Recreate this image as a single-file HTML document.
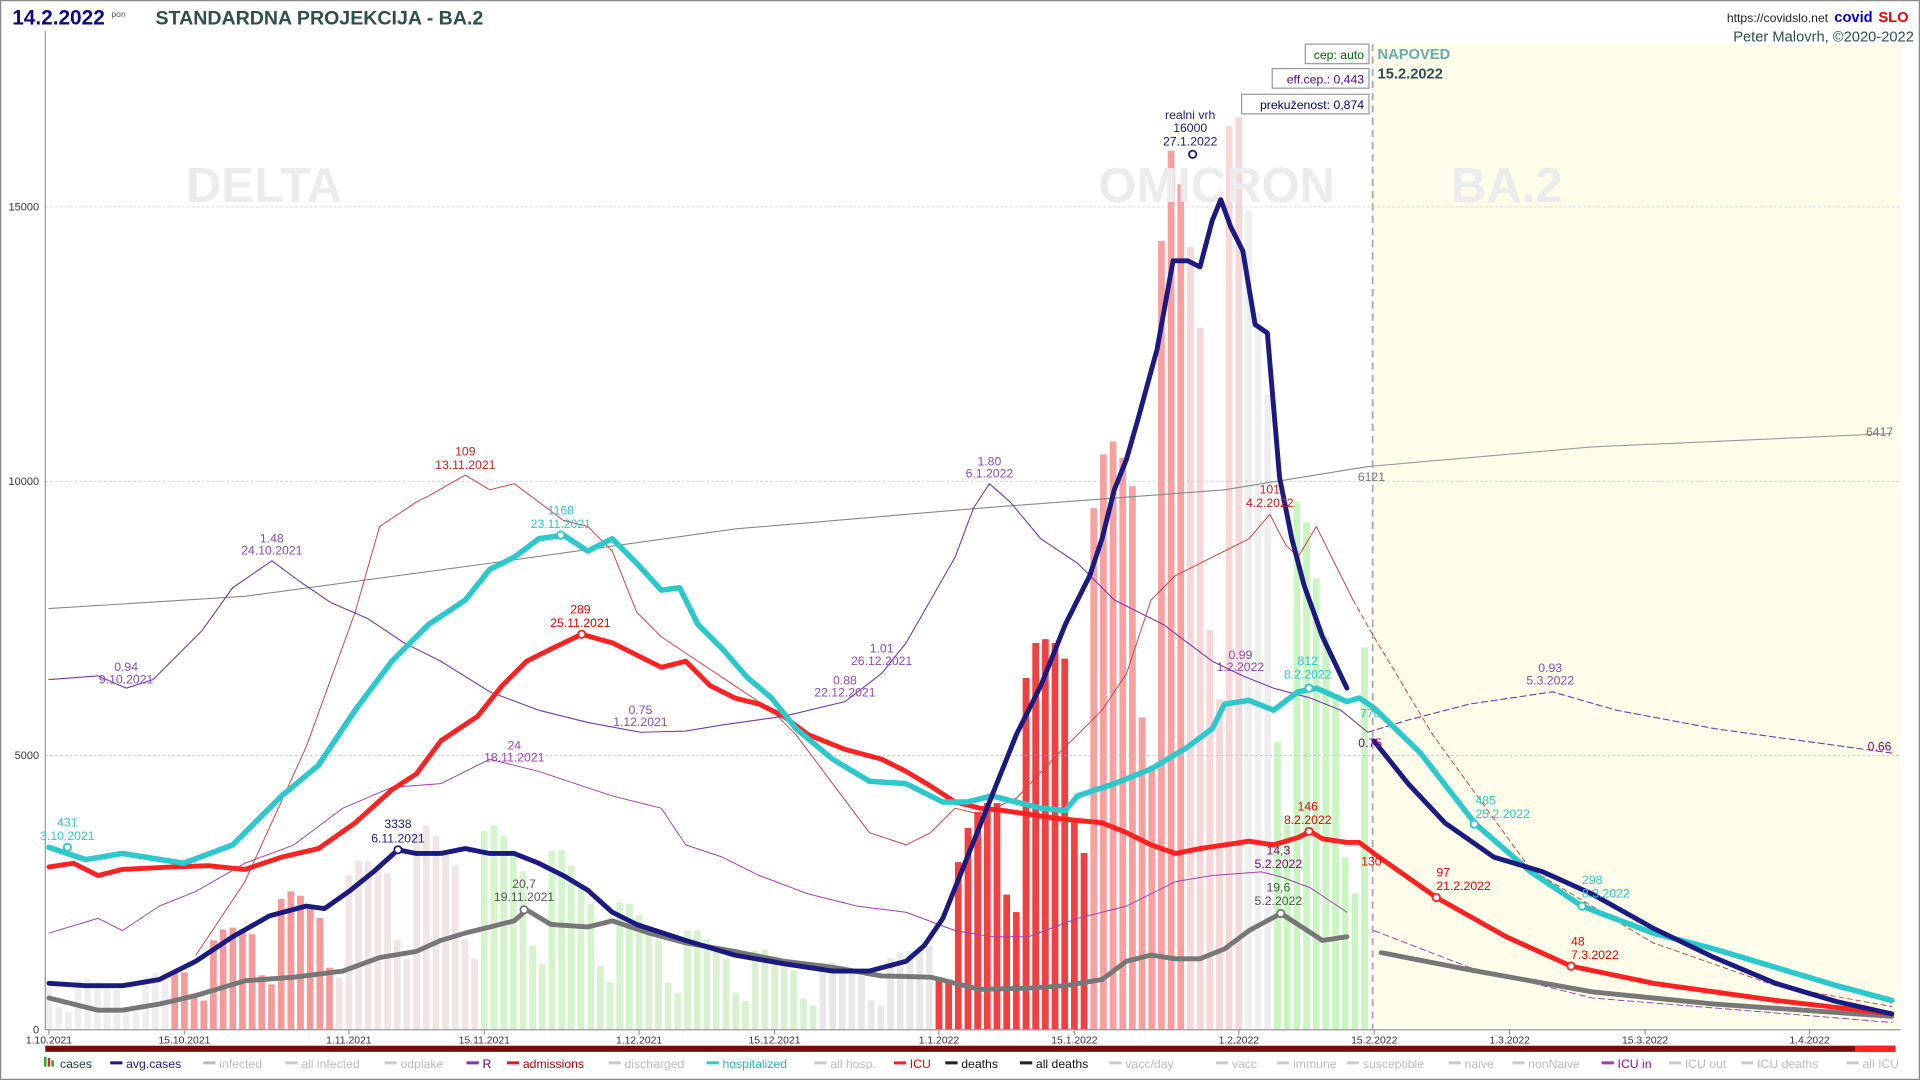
<!DOCTYPE html>
<html><head><meta charset="utf-8"><style>
html,body{margin:0;padding:0;background:#fff;}
svg{display:block;font-family:"Liberation Sans",sans-serif;}
</style></head><body>
<svg id="s" width="1920" height="1080" viewBox="0 0 1568 882" preserveAspectRatio="none">
<rect x="0" y="0" width="1568" height="882" fill="#fff"/>
<rect x="0.5" y="0.5" width="1567" height="881" fill="none" stroke="#888" stroke-width="1"/>
<rect x="1122" y="36" width="430" height="805" fill="#fdfde9"/>
<g id="bars"></g>
<g font-size="40" font-weight="bold" fill="#ececec">
<text x="152" y="165">DELTA</text><text x="897" y="165">OMICRON</text><text x="1185" y="165">BA.2</text>
</g>
<g stroke="#bbb" stroke-width="0.6" stroke-dasharray="2,2">
<line x1="37" y1="617" x2="1552" y2="617"/><line x1="37" y1="393" x2="1552" y2="393"/><line x1="37" y1="169" x2="1552" y2="169"/>
</g>
<line x1="37" y1="25" x2="37" y2="841" stroke="#999"/>
<line x1="37" y1="841" x2="1552" y2="841" stroke="#999"/>
<line x1="1121" y1="36" x2="1121" y2="841" stroke="#aaa" stroke-width="1.5" stroke-dasharray="6,4"/>
<g font-size="9" fill="#333">
<text x="32" y="844" text-anchor="end">0</text><text x="32" y="620" text-anchor="end">5000</text><text x="32" y="396" text-anchor="end">10000</text><text x="32" y="172" text-anchor="end">15000</text>
</g>
<g font-size="8.5" fill="#333" text-anchor="middle" id="xt"></g>
<rect x="37" y="854" width="1511" height="5" fill="#7a0b0b"/>
<rect x="1515" y="854" width="33" height="5" fill="#f22"/>
<g id="lines" fill="none" stroke-linejoin="round" stroke-linecap="round"></g>
<text x="10" y="20" font-size="17" font-weight="bold" fill="#0a0a80">14.2.2022</text>
<text x="91" y="14" font-size="7" fill="#555">pon</text>
<text x="127" y="20" font-size="16" font-weight="bold" fill="#2f4f4f">STANDARDNA PROJEKCIJA - BA.2</text>
<text x="1493" y="18" font-size="10" fill="#222" text-anchor="end">https://covidslo.net</text>
<text x="1498" y="18" font-size="12" font-weight="bold" fill="#00c">covid</text><text x="1534" y="18" font-size="12" font-weight="bold" fill="#e00">SLO</text>
<text x="1563" y="34" font-size="12" fill="#2f4f4f" text-anchor="end">Peter Malovrh, ©2020-2022</text>
<g font-size="10">
<rect x="1066" y="36" width="52" height="16" fill="#fff" stroke="#999"/><text x="1114" y="48" text-anchor="end" fill="#060">cep: auto</text>
<rect x="1039" y="56" width="79" height="16" fill="#fff" stroke="#999"/><text x="1114" y="68" text-anchor="end" fill="#508">eff.cep.: 0,443</text>
<rect x="1014" y="77" width="104" height="16" fill="#fff" stroke="#999"/><text x="1114" y="89" text-anchor="end" fill="#006">prekuženost: 0,874</text>
</g>
<text x="1125" y="48" font-size="12" font-weight="bold" fill="#6aa">NAPOVED</text>
<text x="1125" y="64" font-size="12" font-weight="bold" fill="#2f4f4f">15.2.2022</text>
<g font-size="10" text-anchor="middle" id="ann"></g>
<g font-size="10" id="leg"></g>
</svg>
<script>
const NS="http://www.w3.org/2000/svg";
function el(t,a,p){const e=document.createElementNS(NS,t);for(const k in a)e.setAttribute(k,a[k]);(p||document.getElementById('s')).appendChild(e);return e;}
const X=d=>40+d*7.9;
const xt=document.getElementById('xt');
[["1.10.2021",0],["15.10.2021",14],["1.11.2021",31],["15.11.2021",45],["1.12.2021",61],["15.12.2021",75],["1.1.2022",92],["15.1.2022",106],["1.2.2022",123],["15.2.2022",137],["1.3.2022",151],["15.3.2022",165],["1.4.2022",182]].forEach(([t,d])=>{
 el('line',{x1:X(d),y1:841,x2:X(d),y2:845,stroke:'#999'},xt);
 const e=el('text',{x:X(d),y:852},xt);e.textContent=t;});
const P=s=>s.trim().split(/\s+/).map(p=>p.split(',').map(Number));
const navy=P("40,803 70,805 100,805 130,800 160,785 190,765 220,748 250,740 265,742 285,728 305,712 325,694 340,697 360,697 380,693 400,697 420,697 440,705 460,715 480,727 500,745 520,755 560,768 600,780 640,787 680,793 710,793 740,785 755,772 770,750 790,700 810,650 830,600 850,560 870,510 890,470 900,440 910,400 920,375 930,340 945,285 958,213 970,213 980,218 990,180 997,163 1005,185 1015,205 1025,265 1035,272 1045,390 1055,440 1065,478 1080,520 1100,562");
function interp(pts,x){for(let i=1;i<pts.length;i++){if(x<=pts[i][0]){const a=pts[i-1],b=pts[i];return a[1]+(b[1]-a[1])*(x-a[0])/(b[0]-a[0]);}}return pts[pts.length-1][1];}
const bars=document.getElementById('bars');
const fac=[1.12,1.16,1.1,1.02,0.92,0.5,0.4];
for(let d=0;d<137;d++){
 const x=X(d);let y=interp(navy,x);let h=(841-y)*fac[(d+4)%7];
 if(h>832)h=832;
 let c;
 if(d<13)c='#eeeeee';else if(d<30)c='#f59a9a';else if(d<45)c='#f0e4e4';else if(d<62)c='#d4f5cc';else if(d<80)c='#d8f2d0';else if(d<92)c='#e8e8e8';else if(d<108)c='#f24040';else if(d<118)c='#f8a0a0';else if(d<124)c='#f6d6d6';else if(d<127)c='#eeeeee';else c='#c8f5c0';
 el('rect',{x:x-3,y:841-h,width:6,height:h,fill:c,stroke:'#fff','stroke-width':0.5},bars);
}
const L=document.getElementById('lines');
function line(s,st,w,dash){el('polyline',{points:s,stroke:st,'stroke-width':w,'stroke-dasharray':dash||'none'},L);}
line("40,497 200,487 400,460 600,432 800,415 1000,400 1117,381",'#888',0.9);
line("1117,381 1300,365 1545,354",'#999',0.9);
line("160,780 200,720 250,610 290,500 310,430 340,410 350,405 380,388 400,400 420,395 440,410 460,425 480,430 500,450 520,500 540,520 570,540 600,560 630,580 650,600 680,640 710,680 740,690 760,680 780,660 800,665 830,652 860,620 880,600 900,580 920,550 940,490 960,470 980,460 1000,450 1020,440 1037,420 1050,445 1060,455 1075,430 1090,460 1105,490",'#c44',0.8);
line("1105,490 1122,520 1170,600 1250,710 1350,770 1450,805 1545,822",'#c44',0.8,'4,3');
line("40,555 80,552 103,562 125,555 145,535 165,515 190,480 222,458 245,475 270,492 300,505 330,525 360,540 400,565 440,580 480,590 523,598 560,597 590,592 640,585 690,573 720,550 740,525 760,490 780,455 795,415 808,395 825,410 850,440 880,460 910,490 950,510 990,540 1015,552 1040,562 1070,570 1095,580 1117,598",'#7a3aa8',0.9);
line("1117,598 1150,588 1200,575 1268,565 1320,580 1400,595 1450,602 1545,615",'#7a3aa8',0.9,'5,3');
line("40,762 80,750 100,760 130,740 160,728 200,705 240,690 280,660 320,643 360,640 380,630 400,620 420,625 440,630 470,640 500,650 540,660 560,690 590,700 620,715 660,730 700,740 740,745 780,760 810,765 840,765 880,750 920,740 960,720 990,715 1030,712 1046,716 1070,725 1100,745",'#a040b0',0.8);
line("1122,760 1200,790 1300,815 1545,835",'#a040b0',0.8,'5,3');
line("40,815 80,825 100,825 130,820 160,813 200,801 240,798 280,793 310,782 340,777 360,768 380,762 400,757 420,752 430,743 450,755 480,757 500,752 530,762 560,770 600,777 640,785 680,790 720,797 760,798 800,808 840,807 870,805 900,800 920,785 940,780 960,783 980,783 1000,775 1020,760 1046,746 1060,755 1080,768 1100,765",'#777',4);
line("1128,778 1200,792 1300,810 1400,820 1545,830",'#777',4);
line("40,708 60,705 80,715 100,710 140,708 170,707 200,710 230,700 260,693 290,672 320,645 340,632 360,605 390,585 410,560 430,540 450,530 475,518 500,525 520,535 540,545 560,540 580,560 600,570 620,575 640,585 660,600 690,612 720,620 740,630 760,642 780,655 800,660 820,662 840,665 860,668 880,670 900,672 920,680 940,690 960,697 980,693 1000,690 1020,687 1040,690 1060,684 1070,679 1080,685 1100,688 1110,688 1122,697 1173,733 1230,765 1283,789 1350,803 1450,817 1545,828",'#f22',4);
line("40,692 70,702 100,697 150,705 190,690 230,650 260,625 290,580 320,540 350,510 380,490 400,465 420,455 440,440 460,437 480,450 500,440 520,460 540,482 555,480 570,510 590,530 610,553 630,570 650,595 680,620 710,638 740,640 770,655 790,655 810,650 830,655 850,660 870,662 880,650 910,640 940,628 970,610 990,595 1000,575 1020,572 1040,580 1060,565 1075,562 1100,573 1110,570 1122,578 1160,615 1205,673 1250,712 1292,740 1350,762 1400,775 1450,790 1500,805 1545,817",'#2cc8cc',4.5);
line(navy.map(p=>p.join(',')).join(' '),'#1a1a80',4);
line("1122,605 1150,640 1180,672 1220,700 1260,712 1300,730 1350,758 1400,782 1450,803 1500,818 1545,828",'#1a1a80',4);
[[55,692,'#2cc8cc'],[325,694,'#1a1a80'],[458,437,'#2cc8cc'],[475,518,'#f22'],[974,126,'#1a1a80'],[1069,562,'#2cc8cc'],[1069,679,'#f22'],[1046,746,'#777'],[428,743,'#777'],[1204,673,'#2cc8cc'],[1173,733,'#f22'],[1292,740,'#2cc8cc'],[1283,789,'#f22']].forEach(([x,y,c])=>el('circle',{cx:x,cy:y,r:3,fill:'#fff',stroke:c,'stroke-width':1.5},L));
const A=document.getElementById('ann');
function t(x,y,s,c,anc){const e=el('text',{x:x,y:y,fill:c,'text-anchor':anc||'middle'},A);e.textContent=s;}
t(55,675,"431","#2cc8cc");t(55,686,"3.10.2021","#2cc8cc");
t(325,676,"3338","#1a1a80");t(325,688,"6.11.2021","#1a1a80");
t(428,725,"20,7","#555");t(428,736,"19.11.2021","#555");
t(420,612,"24","#a040b0");t(420,622,"18.11.2021","#a040b0");
t(458,420,"1168","#2cc8cc");t(458,431,"23.11.2021","#2cc8cc");
t(474,501,"289","#d00");t(474,512,"25.11.2021","#d00");
t(380,372,"109","#c22");t(380,383,"13.11.2021","#c22");
t(222,443,"1.48","#8a4ab8");t(222,453,"24.10.2021","#8a4ab8");
t(103,548,"0.94","#8a4ab8");t(103,558,"9.10.2021","#8a4ab8");
t(523,583,"0.75","#8a4ab8");t(523,593,"1.12.2021","#8a4ab8");
t(690,559,"0.88","#8a4ab8");t(690,569,"22.12.2021","#8a4ab8");
t(720,533,"1.01","#8a4ab8");t(720,543,"26.12.2021","#8a4ab8");
t(808,380,"1.80","#8a4ab8");t(808,390,"6.1.2022","#8a4ab8");
t(972,97,"realni vrh","#1a1a80");t(972,108,"16000","#1a1a80");t(972,119,"27.1.2022","#1a1a80");
t(1037,403,"101","#c22");t(1037,414,"4.2.2022","#c22");
t(1013,538,"0.99","#8a4ab8");t(1013,548,"1.2.2022","#8a4ab8");
t(1068,543,"812","#2cc8cc");t(1068,554,"8.2.2022","#2cc8cc");
t(1068,662,"146","#e00");t(1068,673,"8.2.2022","#e00");
t(1044,698,"14,3","#808");t(1044,709,"5.2.2022","#808");
t(1044,728,"19,6","#555");t(1044,739,"5.2.2022","#555");
t(1119,586,"770","#2cc8cc");t(1119,610,"0.75","#808");t(1120,707,"130","#e00");
t(1120,393,"6121","#777");t(1535,356,"6417","#777");t(1535,613,"0.66","#808");
t(1266,549,"0.93","#8a4ab8");t(1266,559,"5.3.2022","#8a4ab8");
t(1205,657,"485","#2cc8cc","start");t(1205,668,"25.2.2022","#2cc8cc","start");
t(1173,716,"97","#e00","start");t(1173,727,"21.2.2022","#e00","start");
t(1292,722,"298","#2cc8cc","start");t(1292,733,"8.3.2022","#2cc8cc","start");
t(1283,772,"48","#e00","start");t(1283,783,"7.3.2022","#e00","start");
const G=document.getElementById('leg');
const items=[["cases","#1a5a1a","bar"],["avg.cases","#1a1a80"],["infected","#bbb"],["all infected","#ccc"],["odplake","#ccc"],["R","#7a3aa8"],["admissions","#c22"],["discharged","#ccc"],["hospitalized","#2cc8cc"],["all hosp.","#ccc"],["ICU","#f22"],["deaths","#222"],["all deaths","#222"],["vacc/day","#ccc"],["vacc","#ccc"],["immune","#ccc"],["susceptible","#ccc"],["naive","#ccc"],["nonNaive","#ccc"],["ICU in","#a040b0"],["ICU out","#ccc"],["ICU deaths","#ccc"],["all ICU","#ccc"]];
const tc={"cases":"#1a3a3a","avg.cases":"#1a1a80","R":"#508","admissions":"#b00","hospitalized":"#2bb","ICU":"#e00","deaths":"#111","all deaths":"#111","ICU in":"#a0a"};
const xs=[36,90,166,233,314,381,414,497,577,665,730,772,833,906,993,1043,1100,1183,1235,1308,1363,1422,1508];
items.forEach(([n,c,b],i)=>{const x=xs[i];
 if(b){el('rect',{x:x,y:863,width:2,height:8,fill:'#2a2'},G);el('rect',{x:x+3,y:864,width:2,height:7,fill:'#d22'},G);el('rect',{x:x+6,y:866,width:2,height:5,fill:'#2a2'},G);}
 else el('line',{x1:x,y1:868,x2:x+10,y2:868,stroke:c,'stroke-width':2.5},G);
 const e=el('text',{x:x+13,y:872,fill:tc[n]||'#bbb'},G);e.textContent=n;});
</script>
</body></html>
